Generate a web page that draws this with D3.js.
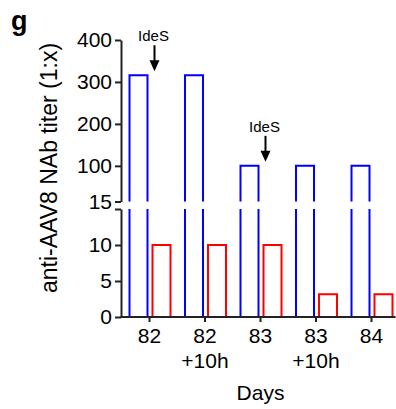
<!DOCTYPE html>
<html>
<head>
<meta charset="utf-8">
<script src="https://cdn.jsdelivr.net/npm/d3@7"></script>
<style>
  body { margin: 0; background: #fff; }
  svg text { font-family: "Liberation Sans", Arial, sans-serif; fill: #000; }
</style>
</head>
<body>
<svg id="svg" width="396" height="409"></svg>
<script>
// data
let days = ['82', '82', '83', '83', '84'];
let subLabels = ['', '+10h', '', '+10h', ''];
let blueTiters = [316, 316, 100, 100, 100];
let redTiters = [10, 10, 10, 3.16, 3.16];
let ideSDays = [0, 2];
let topTicks = [15, 100, 200, 300, 400];
let bottomTicks = [0, 5, 10, 15];

let svg = d3.select('#svg');
let breakAt = 15;

let yTop = d3.scaleLinear().domain([breakAt, 400]).range([201.5, 40]);
let yBot = d3.scaleLinear().domain([0, breakAt]).range([317, 209]);

let x = d3.scaleBand()
  .domain(d3.range(days.length))
  .range([121.75, 399.25])
  .paddingInner(0);
let xSub = d3.scaleBand()
  .domain(['blue', 'red'])
  .range([-20, 21])
  .paddingInner(5 / 23);

let axisColor = '#222';

// y axes, broken at 15
let gTop = svg.append('g').attr('transform', 'translate(121,0)')
  .call(d3.axisLeft(yTop).tickValues(topTicks).tickSize(6).tickSizeOuter(0).tickPadding(3));
let gBot = svg.append('g').attr('transform', 'translate(121,0)')
  .call(d3.axisLeft(yBot).tickValues(bottomTicks).tickSize(6).tickSizeOuter(0).tickPadding(3)
    .tickFormat(d => d === breakAt ? '' : d));

[gTop, gBot].forEach(g => {
  g.selectAll('path, line').attr('stroke', axisColor).attr('stroke-width', 2);
  g.selectAll('text').style('font-size', '21px');
});

// bars: outline without bottom edge, split at the break
function barPath(x0, w, v) {
  let parts = [];
  if (v > breakAt) {
    let y0 = yBot(0), y1 = yBot(breakAt);
    parts.push(`M${x0},${y0}V${y1}M${x0 + w},${y0}V${y1}`);
    parts.push(`M${x0},${yTop(breakAt)}V${yTop(v)}H${x0 + w}V${yTop(breakAt)}`);
  } else {
    parts.push(`M${x0},${yBot(0)}V${yBot(v)}H${x0 + w}V${yBot(0)}`);
  }
  return parts.join('');
}

let groupCenter = i => x(i) + x.bandwidth() / 2;

let series = [
  {key: 'blue', color: '#0000ff', values: blueTiters},
  {key: 'red', color: '#ff0000', values: redTiters}
];

series.forEach(s => {
  svg.append('g').selectAll('path')
    .data(s.values)
    .enter()
    .append('path')
    .attr('d', (v, i) => barPath(groupCenter(i) + xSub(s.key), xSub.bandwidth(), v))
    .attr('fill', 'none')
    .attr('stroke', s.color)
    .attr('stroke-width', 2);
});

// x axis
let gX = svg.append('g').attr('transform', `translate(0,${yBot(0)})`)
  .call(d3.axisBottom(x).tickSize(5).tickSizeOuter(0).tickFormat(''));
gX.select('.domain').attr('d', `M${x.range()[0] - 1},0H${groupCenter(days.length - 1) + xSub('red') + xSub.bandwidth() + 3}`);
gX.selectAll('path, line').attr('stroke', axisColor).attr('stroke-width', 2);
gX.selectAll('.tick text').remove();
gX.selectAll('.tick').append('text')
  .attr('text-anchor', 'middle')
  .style('font-size', '21px')
  .each(function(i) {
    let t = d3.select(this);
    t.append('tspan').attr('x', 0).attr('y', 26).text(days[i]);
    if (subLabels[i]) t.append('tspan').attr('x', 0).attr('y', 51).text(subLabels[i]);
  });

// axis titles
svg.append('text')
  .attr('x', groupCenter(2))
  .attr('y', 400)
  .attr('text-anchor', 'middle')
  .style('font-size', '21px')
  .text('Days');

svg.append('text')
  .attr('transform', 'translate(57,168) rotate(-90)')
  .attr('text-anchor', 'middle')
  .style('font-size', '23px')
  .text('anti-AAV8 NAb titer (1:x)');

svg.append('text')
  .attr('x', 11)
  .attr('y', 30)
  .style('font-size', '27px')
  .style('font-weight', 'bold')
  .text('g');

// IdeS arrows above the blue bars
ideSDays.forEach(i => {
  let cx = groupCenter(i) + 5;
  let tipY = yTop(blueTiters[i]) - 4;
  let g = svg.append('g');
  g.append('text')
    .attr('x', cx - 1)
    .attr('y', tipY - 30)
    .attr('text-anchor', 'middle')
    .style('font-size', '15px')
    .text('IdeS');
  g.append('line')
    .attr('x1', cx).attr('x2', cx)
    .attr('y1', tipY - 26).attr('y2', tipY - 8)
    .attr('stroke', '#000').attr('stroke-width', 2);
  g.append('path')
    .attr('d', `M${cx - 5},${tipY - 11}L${cx + 5},${tipY - 11}L${cx},${tipY}Z`)
    .attr('fill', '#000');
});
</script>
</body>
</html>
